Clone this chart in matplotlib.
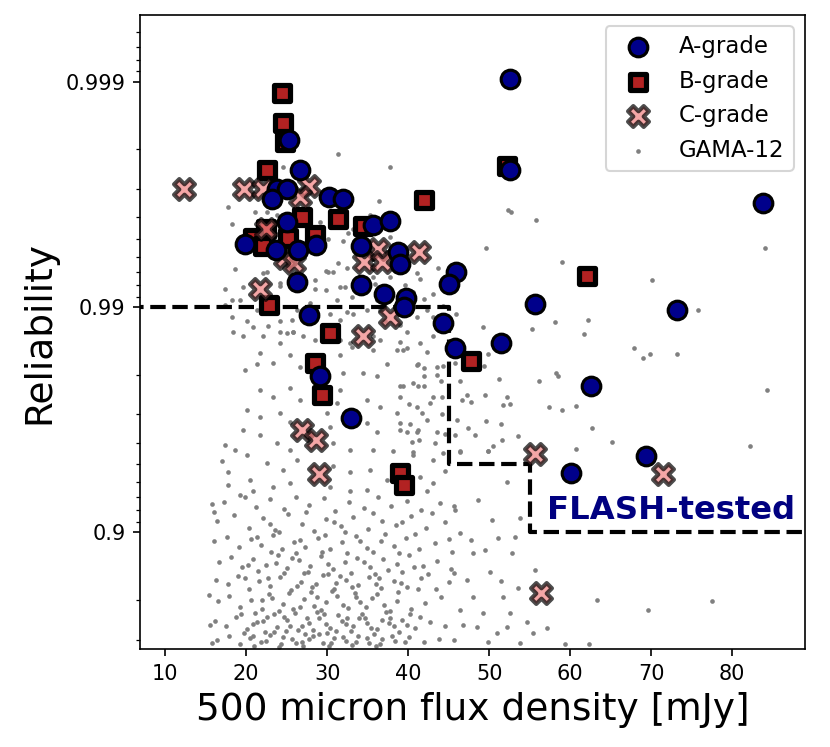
import matplotlib
matplotlib.use('Agg')
import matplotlib.pyplot as plt
import numpy as np
from matplotlib.ticker import NullFormatter

# 500 micron flux density [mJy] and reliability of the graded sources
A_flux = [52.6, 25.3, 26.7, 52.6, 23.8, 25.0, 23.2, 30.2, 32.0, 25.0, 35.7, 37.7, 19.8,
          23.7, 26.4, 28.6, 34.2, 38.8, 39.0, 45.9, 45.1, 26.3, 34.2, 37.0, 39.7, 39.5,
          55.6, 73.2, 27.7, 44.3, 51.5, 45.8, 29.1, 62.6, 33.0, 69.3, 60.1, 83.8]
A_rel = [0.99903, 0.99818, 0.99754, 0.99752, 0.99701, 0.99701, 0.99669, 0.99675, 0.99667,
         0.9958, 0.99566, 0.99584, 0.99473, 0.99443, 0.9944, 0.99471, 0.99462, 0.9943,
         0.99358, 0.99298, 0.99207, 0.99225, 0.99199, 0.99122, 0.99082, 0.98994, 0.99027,
         0.98966, 0.98912, 0.98823, 0.98552, 0.98476, 0.97971, 0.97754, 0.96875, 0.95411,
         0.94541, 0.99653]

B_flux = [24.4, 24.6, 24.8, 22.6, 52.2, 41.9, 26.9, 31.3, 34.4, 22.4, 20.9, 25.2, 28.5,
          22.1, 62.1, 22.8, 30.3, 47.8, 28.5, 29.4, 39.0, 39.5]
B_rel = [0.99888, 0.99848, 0.99814, 0.99754, 0.99762, 0.99664, 0.99601, 0.99594, 0.99561,
         0.99551, 0.99503, 0.99503, 0.99519, 0.99462, 0.99269, 0.99017, 0.98688, 0.9826,
         0.98219, 0.97538, 0.94523, 0.93829]

C_flux = [12.3, 19.7, 22.1, 27.7, 26.6, 22.4, 24.8, 25.9, 36.3, 34.6, 36.8, 41.3, 21.7,
          37.8, 34.4, 26.9, 28.6, 29.0, 55.6, 71.5, 56.4]
C_rel = [0.99701, 0.99701, 0.99701, 0.99708, 0.99675, 0.9955, 0.99392, 0.9936, 0.99449,
         0.99368, 0.99368, 0.9943, 0.99163, 0.98893, 0.98651, 0.96481, 0.961, 0.9449,
         0.95504, 0.9449, 0.8142]

# FLASH-tested selection boundary
cut_flux = [0, 45, 45, 55, 55, 100]
cut_rel = [0.99, 0.99, 0.95, 0.95, 0.9, 0.9]

gama_points = [
    (24.6, .9976), (17.7, .9964), (18.3, .9957), (21.1, .9962), (22.6, .9962), (23.8, .9961),
    (29.1, .9958), (31.4, .9979), (37.8, .9976), (36.4, .9966), (33.2, .9955), (32.6, .9953),
    (35.3, .9961), (32.0, .9949), (30.1, .9950), (37.8, .9951), (31.4, .9936), (29.8, .9931),
    (30.1, .9930), (30.7, .9930), (32.5, .9933), (18.6, .9932), (17.4, .9917), (19.6, .9918),
    (18.3, .9907), (24.2, .9922), (24.2, .9919), (22.6, .9930), (22.1, .9929), (28.5, .9924),
    (28.5, .9917), (29.8, .9916), (31.6, .9918), (32.2, .9918), (33.1, .9910), (35.7, .9926),
    (35.9, .9921), (37.8, .9926), (41.1, .9929), (41.5, .9925), (43.7, .9933), (40.6, .9914),
    (43.1, .9912), (39.6, .9920), (41.9, .9908),
    (52.3, .9963), (52.7, .9962), (55.8, .9959), (49.6, .9945), (59.0, .9937), (70.1, .9924),
    (84.0, .9945), (75.8, .9897), (58.1, .9883), (62.2, .9886), (55.3, .9875), (61.7, .9868),
    (49.3, .9877),
    (17.4, .9902), (19.3, .9907), (21.4, .9897), (18.3, .9889), (20.1, .9885), (20.9, .9877),
    (23.6, .9893), (24.2, .9884), (25.7, .9886), (26.3, .9897), (27.9, .9904), (31.2, .9907),
    (32.5, .9895), (33.2, .9892), (31.6, .9886), (30.4, .9892), (34.9, .9897), (36.2, .9907),
    (36.5, .9897), (37.2, .9884), (39.0, .9880), (39.9, .9871), (41.1, .9889), (42.3, .9897),
    (43.1, .9889), (44.3, .9901), (18.4, .9871), (19.6, .9866), (22.1, .9866), (22.7, .9878),
    (24.2, .9871), (25.1, .9869), (25.8, .9871), (27.0, .9866), (28.5, .9860), (31.6, .9860),
    (32.8, .9855), (35.7, .9866), (36.5, .9860), (39.0, .9857), (41.5, .9855), (43.1, .9866),
    (44.8, .9850),
    (45.9, .9892), (39.9, .9848), (39.4, .9844), (42.3, .9842), (41.1, .9819), (42.0, .9814),
    (43.6, .9815), (44.3, .9817), (45.8, .9822), (49.8, .9838), (49.4, .9817), (46.4, .9787),
    (41.9, .9798), (43.6, .9800), (40.6, .9782), (41.2, .9776), (39.4, .9776), (44.0, .9787),
    (39.0, .9750), (43.1, .9750), (44.2, .9750), (42.7, .9733), (40.1, .9730), (41.7, .9704),
    (44.2, .9701), (46.0, .9682), (39.0, .9673), (40.2, .9670), (39.9, .9641), (41.2, .9648),
    (43.5, .9641), (44.6, .9632), (40.5, .9603), (43.3, .9599), (41.4, .9610), (40.6, .9559),
    (44.3, .9555),
    (67.9, .9847), (69.0, .9832), (69.9, .9838), (73.2, .9838), (58.3, .9804), (58.5, .9798),
    (56.2, .9787), (51.2, .9790), (84.3, .9766), (49.5, .9755), (52.2, .9750), (51.7, .9727),
    (52.6, .9730), (57.4, .9722), (59.0, .9713), (60.7, .9725), (62.7, .9655), (65.2, .9603),
    (60.7, .9572), (53.6, .9625), (51.6, .9610), (50.5, .9585), (49.8, .9562), (82.2, .9587),
    (49.6, .9679), (51.4, .9670), (48.3, .9628), (47.4, .9655), (46.7, .9741), (47.7, .9735),
    (47.3, .9755), (46.4, .9562), (45.8, .9628),
    (25.8, .9871), (21.7, .9840), (24.2, .9855), (21.4, .9821), (19.9, .9810), (23.3, .9823),
    (25.4, .9837), (26.7, .9815), (31.6, .9837), (33.1, .9850), (35.7, .9844), (37.4, .9821),
    (38.6, .9844), (41.2, .9821), (32.0, .9804), (34.4, .9804), (36.2, .9797), (39.0, .9776),
    (41.9, .9776), (21.7, .9766), (23.3, .9750), (25.4, .9771), (26.7, .9741), (31.6, .9766),
    (31.2, .9733), (34.9, .9741), (36.5, .9722), (38.6, .9704), (41.1, .9722), (42.3, .9682),
    (20.1, .9713), (21.7, .9692), (24.2, .9704), (25.4, .9676), (30.0, .9704), (30.4, .9658),
    (34.9, .9673), (36.2, .9641), (39.0, .9648), (41.1, .9641), (19.6, .9648), (21.7, .9628),
    (23.8, .9599), (25.4, .9568), (30.7, .9599), (32.8, .9568), (35.7, .9568), (38.1, .9562),
    (40.6, .9545), (43.1, .9522), (20.1, .9545), (22.6, .9508), (24.6, .9471), (26.3, .9522),
    (30.7, .9492), (32.8, .9461), (35.3, .9471), (37.4, .9414), (41.5, .9431), (43.1, .9395),
    (20.5, .9414), (23.3, .9371), (25.4, .9395), (30.4, .9371), (32.8, .9345), (34.9, .9351),
    (42.3, .9345), (20.9, .9345),
    (17.0, .9517), (17.8, .9461), (15.8, .9250), (16.0, .9190), (17.7, .9383), (19.3, .9316),
    (18.6, .9568), (17.4, .9588),
    (17.3, .9262), (19.8, .9301), (21.2, .9228), (22.9, .9287), (24.7, .9214), (26.1, .9305),
    (27.8, .9243), (29.6, .9292), (31.0, .9197), (32.7, .9268), (34.5, .9221), (36.3, .9299),
    (37.9, .9235), (39.8, .9275), (41.6, .9206), (43.9, .9259), (45.7, .9231),
    (16.4, .9112), (18.5, .9157), (20.3, .9045), (22.1, .9139), (23.6, .9021), (25.2, .9168),
    (26.9, .9083), (28.4, .9012), (29.9, .9126), (31.7, .9057), (33.2, .9144), (35.0, .9031),
    (36.8, .9109), (38.5, .9068), (40.4, .9150), (42.2, .9040), (44.6, .9097),
    (16.0, .8903), (17.6, .8951), (19.1, .8832), (20.6, .8924), (21.8, .8861), (23.3, .8968),
    (24.4, .8815), (25.9, .8897), (27.3, .8842), (28.9, .8935), (30.3, .8808), (31.8, .8889),
    (33.5, .8957), (34.9, .8826), (36.6, .8910), (38.2, .8849), (39.7, .8941), (41.4, .8817),
    (43.3, .8885), (45.1, .8926),
    (16.7, .8643), (18.1, .8712), (19.5, .8571), (20.9, .8689), (22.4, .8604), (23.9, .8735),
    (25.0, .8552), (26.5, .8667), (27.9, .8590), (29.2, .8721), (30.7, .8538), (32.2, .8648),
    (33.7, .8703), (35.3, .8566), (36.9, .8679), (38.6, .8612), (40.1, .8731), (41.8, .8584),
    (43.5, .8657), (45.3, .8547),
    (16.3, .8377), (17.8, .8296), (19.0, .8431), (20.4, .8214), (21.6, .8358), (22.9, .8267),
    (24.2, .8412), (25.5, .8189), (26.8, .8331), (28.1, .8243), (29.5, .8448), (30.9, .8205),
    (32.3, .8362), (33.8, .8281), (35.2, .8420), (36.7, .8228), (38.3, .8345), (39.9, .8257),
    (41.6, .8398), (43.4, .8211), (45.0, .8329),
    (16.5, .7985), (17.9, .8072), (19.3, .7861), (20.6, .7996), (21.9, .7805), (23.2, .8043),
    (24.5, .7912), (25.8, .7798), (27.1, .8019), (28.4, .7874), (29.8, .7951), (31.2, .8088),
    (32.6, .7823), (34.1, .7967), (35.5, .8034), (37.0, .7889), (38.6, .7986), (40.3, .7817),
    (42.1, .7942), (44.0, .8061),
    (16.2, .7516), (17.5, .7398), (18.8, .7612), (20.1, .7305), (21.3, .7489), (22.6, .7624),
    (23.8, .7357), (25.1, .7541), (26.4, .7283), (27.7, .7459), (29.0, .7598), (30.4, .7331),
    (31.8, .7512), (33.2, .7397), (34.7, .7586), (36.1, .7302), (37.6, .7468), (39.2, .7554),
    (40.9, .7349), (42.7, .7503), (44.5, .7391),
    (16.4, .6993), (17.9, .7112), (19.2, .6874), (20.5, .7058), (21.8, .6921), (23.0, .7135),
    (24.3, .6857), (25.6, .7021), (26.9, .6943), (28.2, .7096), (29.5, .6889), (30.9, .7047),
    (32.3, .6962), (33.8, .7118), (35.2, .6901), (36.8, .7032), (38.4, .6958), (40.1, .7089),
    (41.9, .6912), (43.8, .7011),
    (22.3, .7225), (23.5, .7688), (24.9, .7254), (26.0, .7726), (27.3, .7183), (28.7, .7741),
    (30.0, .7206), (31.4, .7677), (32.9, .7248), (34.3, .7701), (35.8, .7169), (37.3, .7732),
    (22.8, .8126), (24.0, .7759), (25.3, .8144), (26.6, .7862), (28.0, .8153), (29.3, .7780),
    (30.6, .8171), (32.0, .7902), (33.4, .8139), (34.8, .7843), (36.2, .8117), (37.8, .7771),
    (21.1, .7727), (19.7, .7203), (38.9, .7228), (21.5, .8509), (24.7, .8477), (27.6, .8502),
    (30.1, .8465), (33.0, .8488), (35.9, .8471), (39.3, .8493), (23.1, .8773), (26.2, .8768),
    (29.4, .8781), (32.5, .8759), (35.6, .8776), (38.9, .8764), (24.0, .6781), (27.0, .6812),
    (30.2, .6795), (33.1, .6823), (36.0, .6788), (21.0, .6805),
    (19.9, .8402), (22.0, .8007), (23.7, .8623), (25.4, .7402), (26.3, .8262), (27.5, .7604),
    (28.8, .8066), (29.9, .7452), (31.1, .8321), (32.4, .7589), (33.6, .8055), (34.9, .7457),
    (36.4, .8398), (37.7, .7597), (38.8, .8152), (40.2, .7703), (41.2, .8206), (20.8, .7101),
    (22.5, .6952), (24.6, .7068), (26.2, .6897), (27.8, .7012), (29.0, .7175), (30.5, .6883),
    (32.0, .7071), (33.5, .6934), (34.9, .7055), (36.5, .6867), (38.0, .7104), (39.6, .6923),
    (19.4, .7681), (20.9, .7452), (22.1, .7532), (23.4, .7213), (24.7, .7621), (26.9, .7398),
    (28.2, .7289), (29.6, .7702), (31.1, .7258), (32.3, .7443), (33.9, .7602), (35.4, .7337),
    (36.8, .7551), (38.3, .7382), (39.8, .7411), (41.5, .7620), (20.2, .8602), (22.7, .8402),
    (25.6, .8701), (27.2, .8488), (28.6, .8304), (30.1, .8622), (31.6, .8433), (33.1, .8251),
    (34.6, .8647), (36.0, .8302), (37.5, .8527), (39.1, .8319), (40.7, .8572), (42.5, .8468),
    (21.3, .8951), (24.1, .8998), (26.7, .8912), (29.7, .8971), (32.2, .9003), (34.0, .8905),
    (37.2, .8983), (40.9, .8979), (23.0, .9081), (27.4, .9187), (30.8, .9098), (35.7, .9175),
    (39.3, .9102), (43.0, .9178),
    (15.6, .7412), (15.4, .8101), (15.8, .6902),
    (44.6, .9465), (46.4, .9559), (49.9, .9562), (52.2, .9402), (48.6, .9277), (45.8, .9204),
    (50.4, .9118), (53.8, .9136), (46.4, .8996), (47.7, .8918), (51.1, .8940), (53.2, .8950),
    (45.4, .8776), (48.0, .8764), (49.5, .8802), (52.8, .8764), (55.7, .8531), (45.6, .8488),
    (47.3, .8373), (50.1, .8502), (51.4, .8354), (53.6, .8238), (48.0, .8066), (51.7, .8066),
    (46.4, .7791), (49.3, .7718), (52.6, .7718), (54.7, .7500), (46.8, .7423), (48.5, .7370),
    (51.0, .7207), (52.2, .7370), (55.4, .7207), (57.2, .7343), (45.6, .6999), (49.8, .6940),
    (53.8, .6910), (63.3, .8005), (69.6, .7791), (77.5, .7985), (59.4, .6880), (62.3, .6880),
]

gama_flux = np.array([p[0] for p in gama_points])
gama_rel = np.array([p[1] for p in gama_points])

fig = plt.figure(figsize=(830 / 150, 747 / 150), dpi=150)
ax = fig.add_axes([0.1687, 0.1308, 0.8013, 0.8495])

# reliability is drawn as 1-R on an inverted log axis
g = ax.scatter(gama_flux, 1 - gama_rel, s=5, c='grey', lw=0, zorder=1, label='GAMA-12')
ax.plot(cut_flux, 1 - np.array(cut_rel), 'k--', lw=2, zorder=2)
b = ax.scatter(B_flux, 1 - np.array(B_rel), marker='s', s=60, c='firebrick',
               edgecolors='k', lw=2.5, zorder=3, label='B-grade')
c = ax.scatter(C_flux, 1 - np.array(C_rel), marker='X', s=100, c='lightcoral',
               edgecolors='k', lw=2, alpha=0.7, zorder=4, label='C-grade')
a = ax.scatter(A_flux, 1 - np.array(A_rel), marker='o', s=80, c='darkblue',
               edgecolors='k', lw=1.5, zorder=5, label='A-grade')

ax.set_yscale('log')
ax.set_ylim(0.331, 0.000505)
ax.set_yticks([0.1, 0.01, 0.001])
ax.set_yticklabels(['0.9', '0.99', '0.999'])
ax.yaxis.set_minor_formatter(NullFormatter())
ax.set_xlim(6.9, 89.0)
ax.set_xticks(range(10, 90, 10))
ax.tick_params(labelsize=10)

ax.set_xlabel('500 micron flux density [mJy]', fontsize=18)
ax.set_ylabel('Reliability', fontsize=18)

ax.text(57.2, 0.0805, 'FLASH-tested', color='navy', fontsize=15.5,
        fontweight='bold', ha='left', va='center')

ax.legend(handles=[a, b, c, g], loc='upper right', fontsize=11)

fig.savefig('out.png', dpi=150)
